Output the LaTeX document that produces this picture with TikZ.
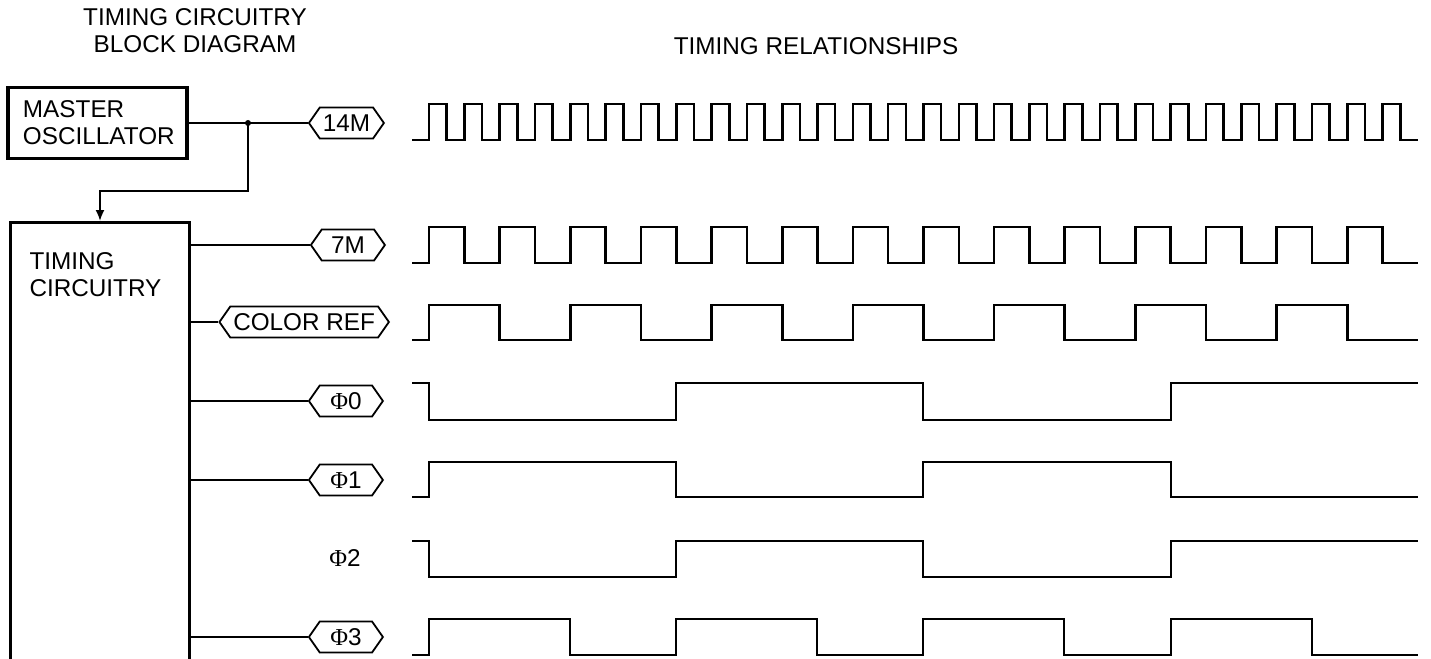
\documentclass[tikz,border=0pt]{standalone}
\usepackage{fontspec}
\setmainfont{Liberation Sans}
\newfontfamily\phifont{Liberation Serif}
\usetikzlibrary{arrows.meta, shapes.symbols}
\newcommand{\Ph}{{\phifont Φ}}
\newcommand{\halfw}{17.66}
\newcommand{\unitw}{35.32}
\newcommand{\dblw}{70.64}

\begin{document}
\begin{tikzpicture}[x=1pt, y=-1pt,
  font=\fontsize{24.3}{27}\selectfont,
  block/.style={rectangle, draw, line width=3.5pt, text width=149pt, inner xsep=15pt, align=left},
  tag/.style={signal, signal to=west and east, signal pointer angle=110, draw, line width=1.8pt,
    minimum height=31pt, minimum width=74pt, inner xsep=3pt, inner ysep=1pt, anchor=east},
  wire/.style={line width=1.8pt},
  arr/.style={-{Latex[length=11pt, width=9pt]}, line width=1.8pt},
  wave/.style={line width=2.6pt}
]

\useasboundingbox (0,0) rectangle (1431,658);
\clip (0,0) rectangle (1431,658);

% titles
\node[align=center] (ttlblock) at (195,31) {TIMING CIRCUITRY\\BLOCK DIAGRAM};
\node (ttlwave) at (816,46) {TIMING RELATIONSHIPS};

% blocks
\node[block, minimum height=71pt] (osc) at (97.5,123) {MASTER\\OSCILLATOR};
\node[block, line width=3pt, anchor=north west, inner xsep=19pt, text width=141pt,
  inner ysep=0pt, text height=47pt, text depth=480pt] (timing) at (9,221) {TIMING\\CIRCUITRY};

% signal tags
\node[tag] (t14m) at (385,123) {14M};
\node[tag] (t7m) at (386,245) {7M};
\node[tag] (tcref) at (390,322) {COLOR REF};
\node[tag] (tphi0) at (384,401) {\Ph0};
\node[tag] (tphi1) at (384,480) {\Ph1};
\node (lphi2) at (345,558) {\Ph2};
\node[tag] (tphi3) at (384,637) {\Ph3};

% connectors
\coordinate (jn) at (248,123);
\draw[wire] (osc.east) -- (t14m.west);
\fill (jn) circle (3pt);
\draw[arr] (jn) -- ++(0,68) -| (timing.north);
\draw[wire] (timing.east |- t7m.west) -- (t7m.west);
\draw[wire] (timing.east |- tcref.west) -- (tcref.west);
\draw[wire] (timing.east |- tphi0.west) -- (tphi0.west);
\draw[wire] (timing.east |- tphi1.west) -- (tphi1.west);
\draw[wire] (timing.east |- tphi3.west) -- (tphi3.west);

% waveforms
\draw[wave] (412,140) -- (429,140)
  \foreach \i in {1,...,28} { -- ++(0,-36) -- ++(\halfw,0) -- ++(0,36) -- ++(\halfw,0) };
\draw[wave] (412,263) -- (429,263)
  \foreach \i in {1,...,14} { -- ++(0,-36) -- ++(\unitw,0) -- ++(0,36) -- ++(\unitw,0) };
\draw[wave] (412,340) -- (429,340)
  \foreach \i in {1,...,7} { -- ++(0,-35) -- ++(\dblw,0) -- ++(0,35) -- ++(\dblw,0) };
\draw[wave] (412,383) -| (429,420) -| (676,383) -| (923,420) -| (1171,383) -- (1418,383);
\draw[wave] (412,497) -| (429,462) -| (676,497) -| (923,462) -| (1171,497) -- (1418,497);
\draw[wave] (412,541) -| (429,577) -| (676,541) -| (923,577) -| (1171,541) -- (1418,541);
\draw[wave] (412,655) -| (429,619) -| (570,655) -| (676,619) -| (817,655) -| (923,619)
  -| (1064,655) -| (1171,619) -| (1312,655) -- (1418,655);

\end{tikzpicture}
\end{document}
